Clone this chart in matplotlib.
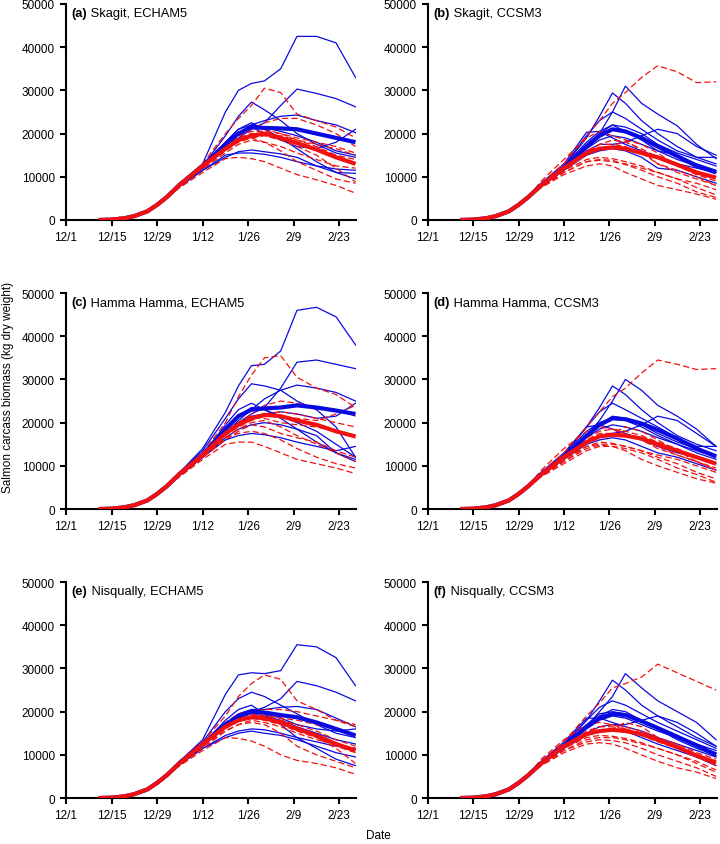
import numpy as np
import matplotlib.pyplot as plt

# days since 12/1
days_rise = [10, 14, 18, 21, 25, 28, 31]
rise = [0, 80, 400, 900, 2000, 3500, 5300]
days_late = [35, 42, 49, 53, 57, 61, 66, 71, 77, 83, 89]

tick_days = [0, 14, 28, 42, 56, 70, 84]
tick_labels = ['12/1', '12/15', '12/29', '1/12', '1/26', '2/9', '2/23']

titles = ['Skagit, ECHAM5', 'Skagit, CCSM3', 'Hamma Hamma, ECHAM5',
          'Hamma Hamma, CCSM3', 'Nisqually, ECHAM5', 'Nisqually, CCSM3']
letters = ['(a)', '(b)', '(c)', '(d)', '(e)', '(f)']

# ---- (a) Skagit, ECHAM5
a_blue = [
    [8500, 13000, 25000, 30000, 31600, 32200, 35000, 42500, 42500, 41000, 33000],
    [8000, 12000, 16500, 19000, 21000, 22500, 26500, 30300, 29300, 28100, 26200],
    [8500, 12500, 19500, 24000, 27300, 25500, 23000, 20000, 17500, 15500, 14500],
    [8000, 12000, 17000, 20000, 22000, 23000, 24000, 24300, 23000, 22000, 20200],
    [7800, 11500, 14500, 15800, 16200, 15800, 15300, 14500, 12500, 11000, 10800],
    [7800, 11500, 15000, 15500, 15500, 15200, 14500, 13500, 12500, 11800, 11500],
    [8000, 12000, 18000, 21000, 22500, 21000, 19000, 16500, 13500, 11000, 9500],
    [8000, 12500, 17000, 20000, 21500, 20000, 18500, 17000, 16500, 18000, 21000],
    [8000, 12500, 18000, 21000, 22000, 21500, 20500, 19500, 18000, 16000, 15000],
]
a_red = [
    [8500, 13000, 20000, 23500, 26500, 30500, 29500, 24500, 23000, 21500, 19000],
    [8200, 12500, 17000, 19500, 21000, 22500, 23500, 23500, 22000, 20000, 17000],
    [7500, 11000, 14200, 14500, 14200, 13500, 12000, 10500, 9300, 8000, 6200],
    [7800, 12000, 16500, 18500, 19000, 18000, 16000, 13500, 11500, 9500, 8500],
    [8000, 12500, 17500, 19500, 20500, 20500, 20000, 19000, 18000, 17000, 15500],
    [8000, 12000, 16000, 18000, 19000, 19500, 18500, 17000, 15000, 12000, 8800],
    [8300, 13000, 18000, 20000, 21500, 21000, 20000, 18500, 17500, 16500, 15000],
    [7800, 11800, 15500, 17500, 18500, 18000, 17000, 15500, 14000, 12500, 12000],
    [8200, 12500, 17000, 19000, 20000, 20000, 19500, 18500, 17000, 15000, 14000],
]
a_blue_mean = [8200, 12500, 17500, 20000, 21500, 21300, 21200, 21000, 20000, 19000, 18000]
a_red_mean = [8200, 12500, 16500, 18500, 19500, 20000, 19000, 17800, 16300, 14500, 13000]

# ---- (b) Skagit, CCSM3
b_blue = [
    [8200, 12000, 17000, 20000, 25000, 31000, 27000, 24500, 21800, 17500, 14200],
    [8200, 12500, 19000, 24000, 29400, 27000, 23000, 20000, 17000, 14500, 13000],
    [8200, 12500, 19500, 23000, 25000, 23500, 21000, 18500, 16000, 14500, 14500],
    [8500, 13000, 20300, 20500, 19000, 17500, 16000, 14500, 13000, 12000, 11000],
    [8000, 12000, 16000, 17500, 17500, 18000, 19500, 21000, 20000, 17000, 15000],
    [7800, 11500, 15000, 16000, 16500, 16000, 14500, 12000, 11500, 10000, 8500],
    [8000, 12000, 17500, 20000, 22000, 21500, 20000, 17500, 15500, 14000, 12500],
    [8000, 12000, 16500, 18500, 19500, 19000, 17500, 16000, 15000, 13000, 11500],
    [8000, 12500, 18000, 20500, 22000, 20500, 18500, 16000, 14000, 12500, 11000],
]
b_red = [
    [8500, 13000, 19500, 23000, 27000, 29500, 33000, 35700, 34300, 31800, 32000],
    [7500, 10500, 12500, 13000, 12500, 11000, 9500, 8000, 7000, 6000, 4800],
    [7500, 11000, 13500, 14000, 13800, 12800, 11500, 10000, 8500, 6500, 5200],
    [7800, 11000, 13500, 13800, 13500, 13000, 12000, 11000, 9500, 8500, 7000],
    [8000, 12000, 15500, 17500, 17500, 17000, 15500, 13000, 11000, 9500, 8000],
    [8000, 12000, 15000, 16500, 17000, 18500, 17500, 15500, 12500, 10500, 9000],
    [8000, 12000, 16000, 17500, 18500, 18000, 16500, 14500, 13000, 11000, 10000],
    [9000, 14000, 19000, 20500, 19500, 18500, 16000, 13000, 11500, 10000, 8000],
    [7800, 11500, 14000, 14500, 14200, 13500, 12500, 11000, 9500, 7500, 5800],
]
b_blue_mean = [8100, 12000, 17000, 19500, 21000, 20500, 19000, 17000, 14800, 12500, 11000]
b_red_mean = [8000, 12000, 15500, 16500, 16800, 16500, 15500, 14500, 12800, 11000, 9800]

# ---- (c) Hamma Hamma, ECHAM5
c_blue = [
    [8500, 14000, 22400, 28500, 33200, 33500, 36600, 46000, 46700, 44500, 38000],
    [8000, 12500, 17500, 20000, 22000, 23500, 28000, 34000, 34500, 33500, 32500],
    [8500, 13500, 21000, 25500, 29000, 28500, 27500, 25000, 23000, 19000, 12000],
    [8000, 12000, 17500, 20500, 23000, 25500, 27500, 28700, 28000, 27000, 25000],
    [7800, 12000, 16000, 17000, 17500, 17200, 16500, 15500, 14500, 13500, 14500],
    [8000, 12500, 19500, 23000, 24500, 23000, 21000, 18500, 15500, 13000, 11000],
    [8000, 12000, 17500, 20000, 21500, 22000, 22500, 22000, 21000, 21500, 24500],
    [8000, 12500, 18500, 21500, 23500, 23000, 21500, 20000, 18000, 15000, 12000],
    [8000, 12000, 16500, 18500, 19500, 20000, 19500, 18500, 17000, 13000, 11500],
]
c_red = [
    [8500, 13000, 20000, 26000, 31000, 35000, 35500, 30500, 28000, 26500, 23500],
    [7500, 11500, 15000, 15500, 15500, 14500, 13000, 11500, 10500, 9500, 8200],
    [7800, 12000, 16500, 17500, 18000, 17500, 16000, 14000, 12000, 10500, 9500],
    [8000, 12500, 18000, 20000, 22000, 24000, 25000, 24500, 23500, 23000, 21500],
    [8000, 12500, 17500, 19500, 21000, 22000, 22500, 22000, 21000, 20000, 19000],
    [8000, 12000, 16500, 18500, 20000, 20500, 19000, 17000, 15000, 13000, 11000],
    [8000, 12500, 18000, 20000, 21500, 21000, 20000, 19500, 19000, 18000, 16500],
    [8000, 12000, 16000, 18000, 19500, 19000, 17500, 16500, 15500, 13500, 12000],
    [8200, 12500, 17000, 19000, 20500, 21500, 21500, 21000, 20500, 22000, 24000],
]
c_blue_mean = [8200, 12500, 18500, 21500, 23000, 23300, 23500, 24000, 23500, 22800, 22000]
c_red_mean = [8200, 12500, 17500, 19500, 21000, 21800, 21500, 20500, 19500, 18000, 16800]

# ---- (d) Hamma Hamma, CCSM3
d_blue = [
    [8200, 12000, 17000, 20500, 25000, 30000, 27500, 24000, 21500, 18500, 14500],
    [8200, 12500, 19000, 23500, 28500, 26500, 23000, 20000, 17000, 15000, 13500],
    [8200, 12500, 19000, 22500, 24500, 23000, 21000, 19000, 16500, 14500, 14500],
    [8500, 13000, 19000, 19500, 18500, 17500, 16000, 14500, 13000, 12000, 10500],
    [8000, 12000, 15500, 17000, 17500, 18000, 19500, 21500, 20500, 17500, 14500],
    [7800, 11500, 15000, 16000, 16500, 16000, 14500, 13000, 12000, 10500, 9000],
    [8000, 12000, 17000, 19500, 21500, 21000, 19500, 17500, 15500, 14000, 12500],
    [8000, 12000, 16500, 18500, 19500, 19000, 18000, 16500, 15000, 13500, 12000],
    [8000, 12500, 18000, 20000, 21000, 20500, 19000, 17000, 15000, 13000, 11500],
]
d_red = [
    [8500, 13000, 19000, 22500, 26000, 28000, 31500, 34500, 33500, 32300, 32500],
    [7500, 10500, 13500, 14500, 14500, 13500, 11500, 10000, 8500, 7000, 6000],
    [7500, 11000, 14000, 14800, 14500, 14000, 13000, 11500, 9500, 8000, 6200],
    [7800, 11000, 14500, 15000, 15000, 14500, 13500, 12500, 11500, 10000, 8500],
    [8000, 12000, 16000, 17500, 17500, 17000, 16000, 14500, 12500, 11000, 9500],
    [8000, 12000, 15500, 17000, 17500, 19000, 18000, 16000, 13500, 11000, 9000],
    [8000, 12000, 16500, 18000, 18500, 18000, 17000, 15500, 14000, 12000, 10500],
    [9000, 14000, 18000, 19000, 18500, 17500, 16000, 14000, 12500, 11000, 9000],
    [7800, 11500, 14500, 15500, 15200, 14500, 13500, 12000, 10500, 8500, 7000],
]
d_blue_mean = [8100, 12000, 17000, 19500, 21000, 20800, 19800, 18300, 16300, 14000, 12200]
d_red_mean = [8000, 12000, 15500, 16800, 17200, 17000, 16300, 15000, 13500, 12000, 10500]

# ---- (e) Nisqually, ECHAM5
e_blue = [
    [8500, 13500, 24000, 28500, 29000, 28800, 29500, 35500, 35000, 32500, 26000],
    [8000, 12500, 17000, 19000, 20000, 21000, 23000, 27000, 26000, 24500, 22500],
    [8500, 13000, 20000, 23000, 24500, 23500, 21500, 19500, 17000, 15000, 14000],
    [8000, 12000, 17000, 19500, 20500, 20500, 21000, 21200, 20500, 18500, 16500],
    [7800, 11500, 14000, 15000, 15500, 15000, 14500, 13500, 12000, 10500, 9500],
    [7800, 11500, 14500, 15500, 16000, 15800, 15000, 14000, 13000, 12000, 11500],
    [8000, 12500, 18000, 20500, 21500, 19500, 17000, 14000, 11500, 9000, 7500],
    [8000, 12500, 17000, 19000, 20000, 19500, 18500, 17000, 16000, 15500, 16000],
    [8000, 12000, 16500, 18500, 19500, 19000, 18000, 16500, 15000, 13500, 12500],
]
e_red = [
    [8500, 13000, 19000, 23500, 26500, 28500, 27500, 22500, 20500, 18000, 17000],
    [7500, 11000, 14000, 13800, 13200, 12000, 10000, 8700, 8000, 7000, 5500],
    [7800, 11500, 15500, 17000, 17500, 17000, 15000, 12000, 10000, 8500, 7000],
    [8000, 12500, 17500, 19500, 20000, 20500, 20500, 20000, 19000, 18000, 16500],
    [8000, 12000, 16000, 18000, 18500, 18000, 17000, 15500, 14000, 12000, 10500],
    [8000, 12000, 16500, 18000, 19000, 19500, 18500, 16500, 14000, 11500, 8000],
    [8000, 12500, 17000, 18500, 19500, 19000, 18500, 18000, 17000, 16000, 14500],
    [8000, 12000, 15500, 17000, 18000, 17500, 16500, 15000, 13500, 12500, 11500],
    [8200, 12500, 16500, 18000, 18500, 18500, 18000, 17000, 15500, 13500, 12000],
]
e_blue_mean = [8200, 12500, 17000, 19000, 20000, 19800, 19200, 18700, 17500, 16000, 14500]
e_red_mean = [8100, 12500, 16500, 18000, 18700, 18500, 17500, 16000, 14500, 12500, 11000]

# ---- (f) Nisqually, CCSM3
f_blue = [
    [8200, 12000, 16500, 20000, 23500, 28800, 25500, 22500, 20000, 17500, 13500],
    [8200, 12500, 18000, 22500, 27300, 25000, 21500, 19000, 16500, 14000, 12000],
    [8200, 12500, 18000, 21000, 22500, 21500, 19500, 17500, 15500, 13500, 11500],
    [8500, 13000, 18500, 18500, 17500, 16500, 15500, 14000, 12500, 11000, 9500],
    [8000, 12000, 15000, 16500, 17000, 17000, 18000, 19000, 17500, 15000, 12000],
    [7800, 11500, 14500, 15500, 16000, 15500, 14000, 12500, 11000, 9500, 7500],
    [8000, 12000, 16500, 19000, 20500, 20000, 18000, 16000, 14000, 12000, 10500],
    [8000, 12000, 16000, 18000, 19000, 18500, 17000, 15500, 14000, 12500, 11000],
    [8000, 12500, 17000, 19500, 20000, 19500, 18000, 16000, 13500, 11500, 9800],
]
f_red = [
    [8500, 13000, 19000, 22000, 25500, 26500, 28000, 31000, 29000, 27000, 25000],
    [7500, 10500, 12500, 12800, 12500, 11500, 10000, 8500, 7000, 6000, 4500],
    [7500, 11000, 13000, 13500, 13300, 12800, 11500, 10000, 8500, 7000, 5000],
    [7800, 11000, 13500, 14000, 14000, 13500, 12500, 11500, 10000, 8500, 6500],
    [8000, 12000, 15000, 16500, 16500, 16000, 15000, 13500, 11500, 9500, 8000],
    [8000, 11500, 14500, 15500, 16000, 17500, 16500, 14000, 11500, 9500, 7500],
    [8000, 12000, 15500, 16500, 17000, 16500, 15500, 14000, 12500, 10500, 9000],
    [9000, 13500, 17000, 17500, 17000, 16000, 14500, 13000, 11500, 10000, 8500],
    [7800, 11500, 14000, 14500, 14300, 13800, 12800, 11500, 10000, 8000, 6000],
]
f_blue_mean = [8100, 12000, 16500, 18500, 19500, 19200, 17800, 16200, 14200, 12200, 10000]
f_red_mean = [8000, 12000, 14800, 15500, 15800, 15500, 14800, 13500, 11800, 9800, 8200]

panels = [
    (a_blue, a_red, a_blue_mean, a_red_mean),
    (b_blue, b_red, b_blue_mean, b_red_mean),
    (c_blue, c_red, c_blue_mean, c_red_mean),
    (d_blue, d_red, d_blue_mean, d_red_mean),
    (e_blue, e_red, e_blue_mean, e_red_mean),
    (f_blue, f_red, f_blue_mean, f_red_mean),
]

plt.rcParams['font.family'] = ['Liberation Sans', 'DejaVu Sans']

BLUE = '#0a0ae0'
RED = '#f01010'

fig = plt.figure(figsize=(7.2, 8.45), dpi=100)

lefts = [0.0917, 0.5944]
widths = [0.403, 0.401]
bottoms = [0.7385, 0.3964, 0.0544]
h = 0.2556

x = days_rise + days_late

for i, (blues, reds, bm, rm) in enumerate(panels):
    row, col = i // 2, i % 2
    ax = fig.add_axes([lefts[col], bottoms[row], widths[col], h])

    for s in blues:
        ax.plot(x, rise + s, color=BLUE, lw=0.9, zorder=2)
    for s in reds:
        ax.plot(x, rise + s, color=RED, lw=0.9, dashes=(5, 2.5), zorder=3)
    ax.plot(x, rise + bm, color=BLUE, lw=3.0, zorder=4, solid_capstyle='butt')
    ax.plot(x, rise + rm, color=RED, lw=3.0, zorder=5, solid_capstyle='butt')

    ax.set_xlim(0, 89.2)
    ax.set_ylim(0, 50000)
    ax.set_xticks(tick_days)
    ax.set_xticklabels(tick_labels)
    ax.set_yticks(np.arange(0, 50001, 10000))
    for sp in ['top', 'right']:
        ax.spines[sp].set_visible(False)
    for sp in ['left', 'bottom']:
        ax.spines[sp].set_linewidth(1.5)
    ax.tick_params(direction='out', length=4, width=1.5, labelsize=8.5, pad=4)

    t = ax.text(0.02, 0.985, letters[i], transform=ax.transAxes, fontsize=9.3,
                fontweight='bold', va='top', ha='left')
    ax.annotate(' ' + titles[i], xy=(1, 0), xycoords=t, fontsize=9.3,
                va='bottom', ha='left')

fig.text(0.011, 0.542, 'Salmon carcass biomass (kg dry weight)', rotation=90,
         fontsize=8.5, va='center', ha='center')
fig.text(0.525, 0.004, 'Date', fontsize=8.5, ha='center', va='bottom')

fig.savefig('out.png', dpi=100)
